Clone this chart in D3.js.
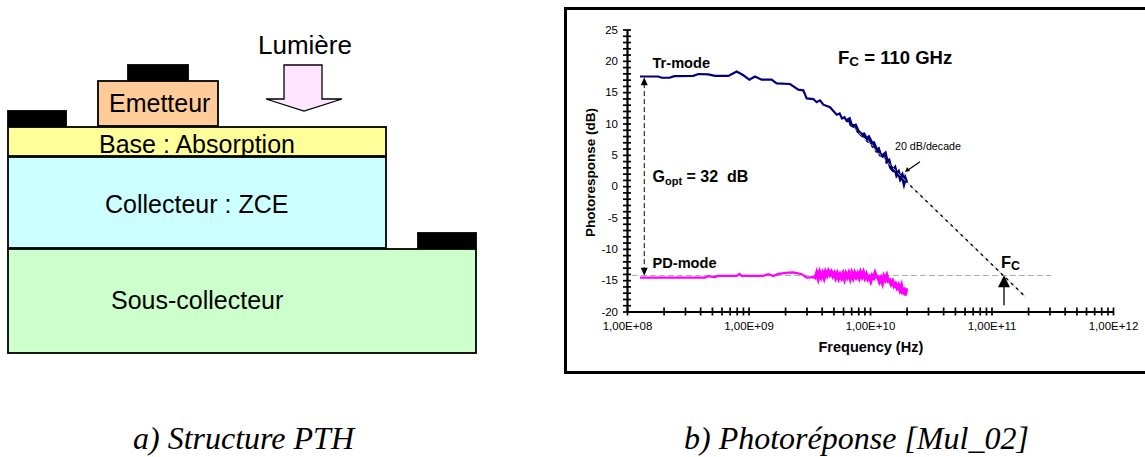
<!DOCTYPE html>
<html><head><meta charset="utf-8">
<script src="https://cdnjs.cloudflare.com/ajax/libs/d3/7.8.5/d3.min.js"></script>
<style>html,body{margin:0;padding:0;background:#fff;overflow:hidden}svg{display:block}text{font-family:"Liberation Sans",Arial,sans-serif;fill:#000}</style>
</head><body><svg id="c" width="1145" height="457"></svg>
<script>
const layers=[
 {name:"Sous-collecteur",x:[8,476],y:[249,353],fill:"#CCFFCC",lx:111,ly:309},
 {name:"Collecteur : ZCE",x:[8,386],y:[157,248],fill:"#CCFFFF",lx:105,ly:213},
 {name:"Base : Absorption",x:[8,386],y:[127,156],fill:"#FFFF99",lx:99,ly:153},
 {name:"Emetteur",x:[98,218],y:[81,126],fill:"#FFCC99",lx:109,ly:112}
];
const contacts=[{x:[128,188],y:[65,80]},{x:[8,66],y:[111,126]},{x:[418,476],y:[233,248]}];
const yTicks=d3.range(-20,26);
const yLabels=[25,20,15,10,5,0,-5,-10,-15,-20];
const xDecades=[1e8,1e9,1e10,1e11,1e12];
const xLabels=["1,00E+08","1,00E+09","1,00E+10","1,00E+11","1,00E+12"];
const trLogHz=[8.107,8.258,8.285,8.35,8.39,8.546,8.587,8.67,8.724,8.834,8.903,8.958,9.007,9.053,9.108,9.19,9.232,9.342,9.41,9.451,9.479,9.534,9.561,9.588,9.616,9.671,9.726,9.75,9.77,9.79,9.808,9.83,9.845,9.863,9.88,9.9,9.931,9.95,9.973,9.99,10.014,10.03,10.055,10.07,10.085,10.11,10.125,10.14,10.155,10.17,10.19,10.205,10.22,10.235,10.25,10.265,10.28,10.29,10.30];
const trDb=[17.5,17.5,17.3,17.3,17.55,17.6,17.9,17.85,17.6,17.6,18.3,17.7,17.0,17.5,17.0,17.0,16.4,16.3,15.4,15.3,14.0,13.9,13.4,13.7,13.0,12.6,11.4,11.6,10.8,11.0,10.4,10.7,9.8,9.6,9.7,8.8,8.2,8.3,7.5,7.8,6.9,6.9,5.7,5.9,5.0,4.9,5.2,3.9,4.1,3.0,2.55,2.9,1.8,2.2,1.2,1.7,0.5,1.2,0.7];
const pdLogHz=[8.107,8.642,8.669,8.724,8.752,8.903,8.925,8.944,9.122,9.163,9.204,9.246,9.328,9.369,9.438,9.479,9.534,9.55,9.562,9.574,9.586,9.598,9.61,9.622,9.634,9.646,9.658,9.67,9.682,9.694,9.706,9.718,9.73,9.742,9.754,9.766,9.778,9.79,9.802,9.814,9.826,9.838,9.85,9.862,9.874,9.886,9.898,9.91,9.922,9.934,9.946,9.958,9.97,9.982,9.994,10.006,10.018,10.03,10.042,10.054,10.066,10.078,10.09,10.102,10.114,10.126,10.138,10.15,10.162,10.174,10.186,10.198,10.21,10.222,10.234,10.246,10.258,10.27,10.28,10.29,10.30];
const pdDb=[-14.6,-14.6,-14.35,-14.5,-14.3,-14.3,-14.0,-14.3,-14.3,-14.05,-14.35,-14.0,-13.8,-13.75,-14.05,-14.6,-14.5,-14.7,-13.9,-14.7,-13.8,-14.5,-13.9,-14.6,-13.7,-14.2,-13.6,-14.1,-13.7,-14.3,-13.9,-14.6,-14.0,-14.7,-14.1,-14.6,-14.0,-14.8,-14.0,-14.5,-13.9,-14.7,-13.9,-14.6,-13.9,-14.5,-14.0,-14.6,-13.8,-14.4,-13.8,-14.6,-14.1,-14.8,-14.5,-15.1,-14.3,-14.6,-13.9,-14.5,-14.5,-15.2,-14.7,-15.4,-14.4,-14.9,-14.3,-15.1,-15.0,-15.6,-15.2,-15.9,-15.6,-16.2,-15.8,-16.5,-15.9,-17.2,-16.2,-17.4,-16.3];
const slopeLogHz=[9.85,10.30,11.276];
const slopeDb=[9.7,0.7,-17.6];
const refDb=-14.25;
const refLogHz=[8.04,11.49];
const gainLogHz=8.142;
const gainDb=[17.4,-14.3];
const fcLogHz=11.103;
const fcDb=[-19,-14.2];

const svg=d3.select("#c");
const rects=svg.append("g").attr("stroke","#000").attr("stroke-width",1.8);
rects.selectAll("rect.l").data(layers).join("rect").attr("class","l")
 .attr("x",d=>d.x[0]).attr("y",d=>d.y[0]).attr("width",d=>d.x[1]-d.x[0]).attr("height",d=>d.y[1]-d.y[0]).attr("fill",d=>d.fill);
rects.selectAll("rect.c").data(contacts).join("rect").attr("class","c")
 .attr("x",d=>d.x[0]).attr("y",d=>d.y[0]).attr("width",d=>d.x[1]-d.x[0]).attr("height",d=>d.y[1]-d.y[0]).attr("fill","#000");
svg.append("path").attr("d",d3.line()([[284,65],[322,65],[322,99],[342,99],[304,111],[266,99],[284,99]])+"Z").attr("fill","#FFE5FF").attr("stroke","#000").attr("stroke-width",1.3);
svg.selectAll("text.l").data(layers).join("text").attr("class","l").attr("x",d=>d.lx).attr("y",d=>d.ly).attr("font-size",25).text(d=>d.name);
svg.append("text").attr("x",258).attr("y",54).attr("font-size",26).text("Lumière");
svg.append("text").attr("x",133).attr("y",449).attr("font-size",32).attr("font-style","italic").style("font-family","'Liberation Serif',serif").text("a) Structure PTH");
svg.append("text").attr("x",684).attr("y",449).attr("font-size",32).attr("font-style","italic").style("font-family","'Liberation Serif',serif").text("b) Photoréponse [Mul_02]");

svg.append("rect").attr("x",565.5).attr("y",8.5).attr("width",620).attr("height",364).attr("fill","#fff").attr("stroke","#000").attr("stroke-width",3);
const x=d3.scaleLog().domain([1e8,1e12]).range([627,1113]);
const y=d3.scaleLinear().domain([-20,25]).range([311.5,29.5]);
const xv=l=>x(Math.pow(10,l));
const yAxis=d3.axisLeft(y).tickValues(yTicks).tickSize(0).tickFormat(d=>yLabels.includes(d)?d:"");
const gy=svg.append("g").attr("transform","translate(627,0)").call(yAxis);
gy.selectAll(".tick line").attr("x1",-4).attr("x2",4).attr("stroke","#000").attr("stroke-width",1.7);
gy.select(".domain").attr("stroke","#000").attr("stroke-width",2.2);
gy.selectAll("text").attr("x",-9).attr("font-size",11.5).style("font-family","'Liberation Sans'");
const minor=[];xDecades.slice(0,4).forEach(d=>{for(let k=1;k<10;k++)minor.push(d*k)});minor.push(1e12);
const xAxis=d3.axisBottom(x).tickValues(minor).tickSize(0).tickFormat(d=>{const i=xDecades.indexOf(d);return i>=0?xLabels[i]:""});
const gx=svg.append("g").attr("transform","translate(0,311.5)").call(xAxis);
gx.selectAll(".tick line").attr("y1",-4).attr("y2",4).attr("stroke","#000").attr("stroke-width",1.7);
gx.select(".domain").attr("stroke","#000").attr("stroke-width",2.2);
gx.selectAll("text").attr("y",10).attr("font-size",11.5).style("font-family","'Liberation Sans'");

const lineOf=(lx,dy)=>d3.line().x((d,i)=>xv(lx[i])).y(d=>y(d))(dy);
const noisy=(lx,dy,from)=>{const i=lx.findIndex(v=>v>=from);return lineOf(lx.slice(i),dy.slice(i));};
svg.append("line").attr("x1",xv(refLogHz[0])).attr("x2",xv(refLogHz[1])).attr("y1",y(refDb)).attr("y2",y(refDb)).attr("stroke","#aaa").attr("stroke-width",1).attr("stroke-dasharray","6 3");
svg.append("path").attr("d",lineOf(trLogHz,trDb)).attr("fill","none").attr("stroke","#000080").attr("stroke-width",2.2);
svg.append("path").attr("d",noisy(trLogHz,trDb,9.8)).attr("fill","none").attr("stroke","#000080").attr("stroke-width",3.4);
svg.append("path").attr("d",lineOf(pdLogHz,pdDb)).attr("fill","none").attr("stroke","#FF00FF").attr("stroke-width",2.2);
svg.append("path").attr("d",noisy(pdLogHz,pdDb,9.55)).attr("fill","none").attr("stroke","#FF00FF").attr("stroke-width",3.6);
svg.append("path").attr("d",lineOf(slopeLogHz,slopeDb)).attr("fill","none").attr("stroke","#bbb").attr("stroke-width",1);
svg.append("path").attr("d",lineOf(slopeLogHz,slopeDb)).attr("fill","none").attr("stroke","#000").attr("stroke-width",1.4).attr("stroke-dasharray","3 4");
const tri=(cx,tip,dir,w,h)=>d3.line()([[cx,tip],[cx-w,tip+dir*h],[cx+w,tip+dir*h]])+"Z";
const gx0=xv(gainLogHz);
svg.append("line").attr("x1",gx0).attr("x2",gx0).attr("y1",y(gainDb[0])+6).attr("y2",y(gainDb[1])-6).attr("stroke","#000").attr("stroke-width",1).attr("stroke-dasharray","5 3");
svg.append("path").attr("d",tri(gx0,y(gainDb[0]),1,3.5,8));
svg.append("path").attr("d",tri(gx0,y(gainDb[1]),-1,3.5,8));
const fx=xv(fcLogHz);
svg.append("line").attr("x1",fx).attr("x2",fx).attr("y1",y(fcDb[0])).attr("y2",y(fcDb[1])+8).attr("stroke","#000").attr("stroke-width",1.3);
svg.append("path").attr("d",tri(fx,y(fcDb[1]),1,6,12));
svg.append("line").attr("x1",920).attr("y1",161.7).attr("x2",908).attr("y2",170).attr("stroke","#000").attr("stroke-width",1.2);
svg.append("path").attr("d",d3.line()([[905,172],[907,167],[910,171]])+"Z");

const bold=(tx,ty,fs,parts)=>{const t=svg.append("text").attr("x",tx).attr("y",ty).attr("font-size",fs).attr("font-weight","bold");
 parts.forEach(p=>{const s=t.append("tspan").text(p[0]);if(p[1])s.attr("font-size",p[1]).attr("dy",p[2]);});return t;};
bold(652.5,67.7,14.6,[["Tr-mode"]]);
bold(652.5,267.7,14.6,[["PD-mode"]]);
bold(652.5,181.7,16,[["G"],["opt",11,3],["\u00A0= 32\u00A0 dB",16,-3]]);
bold(838,64,18.5,[["F"],["C",13.5,2],["\u00A0=\u00A0110 GHz",18.5,-2]]);
bold(1001,268,16.5,[["F"],["C",12.5,2]]);
bold(818.5,352.3,14.5,[["Frequency (Hz)"]]);
svg.append("text").attr("transform","translate(595,172.5) rotate(-90)").attr("text-anchor","middle").attr("font-size",13.5).attr("font-weight","bold").text("Photoresponse (dB)");
svg.append("text").attr("x",895).attr("y",150).attr("font-size",10.7).text("20 dB/decade");
</script></body></html>
